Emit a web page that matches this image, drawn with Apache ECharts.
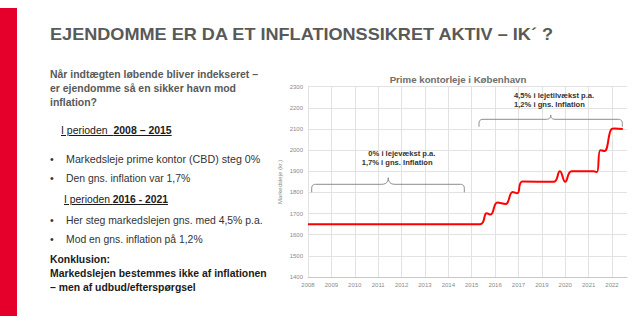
<!DOCTYPE html>
<html><head><meta charset="utf-8">
<script src="https://cdn.jsdelivr.net/npm/echarts@6/dist/echarts.min.js"></script>
<style>
html,body{margin:0;padding:0;width:642px;height:329px;overflow:hidden;background:#fff;}
#chart{position:absolute;left:0;top:0;width:642px;height:329px;}
.t{position:absolute;white-space:nowrap;font-family:"Liberation Sans",Arial,sans-serif;transform-origin:0 50%;line-height:14px;height:14px;}
</style></head><body>
<div id="chart"></div>
<div style="position:absolute;left:0;top:8px;width:17px;height:308px;background:#e4002b"></div>
<div id="slide"></div>
<script>
// ---- chart data ----
const tickLabels = ['2008','2009','2010','2011','2012','2013','2014','2015','2016','2017','2019','2020','2021','2022'];
const periodPos = [0, 7.36, 7.64, 7.8, 8.1, 8.45, 8.75, 8.95, 9.17, 10.5, 10.77, 11.0, 11.27, 12.2, 12.35, 12.5, 12.68, 12.98, 13.1, 13.46];
const rentDKK   = [1650, 1650, 1702, 1695, 1752, 1745, 1802, 1796, 1852, 1850, 1900, 1850, 1900, 1900, 1896, 2000, 1996, 2100, 2102, 2100];
const yMin = 1400, yMax = 2300, yStep = 100;

// ---- slide text ----
const slideLines = [
  {x:50, cy:34.5, w:503, s:17, b:700, c:'#595959', h:'EJENDOMME ER DA ET INFLATIONSSIKRET AKTIV – IK´ ?'},
  {x:50, cy:74, w:208, s:11.5, b:700, c:'#595959', h:'Når indtægten løbende bliver indekseret –'},
  {x:50, cy:88, w:186, s:11.5, b:700, c:'#595959', h:'er ejendomme så en sikker havn mod'},
  {x:50, cy:102, w:47, s:11.5, b:700, c:'#595959', h:'inflation?'},
  {x:61, cy:130, w:110.7, s:10.7, b:400, c:'#1a1a1a', h:'<u>I perioden&nbsp; <b>2008 – 2015</b></u>'},
  {x:50, cy:159.3, s:10.7, b:400, c:'#333', h:'•'},
  {x:65.7, cy:159.3, w:194.3, s:10.7, b:400, c:'#333', h:'Markedsleje prime kontor (CBD) steg 0%'},
  {x:50, cy:178.3, s:10.7, b:400, c:'#333', h:'•'},
  {x:65.7, cy:178.3, w:124.3, s:10.7, b:400, c:'#333', h:'Den gns. inflation var 1,7%'},
  {x:64.3, cy:199, w:104, s:10.7, b:400, c:'#1a1a1a', h:'<u>I perioden <b>2016 - 2021</b></u>'},
  {x:50, cy:220, s:10.7, b:400, c:'#333', h:'•'},
  {x:65.7, cy:220, w:196.6, s:10.7, b:400, c:'#333', h:'Her steg markedslejen gns. med 4,5% p.a.'},
  {x:50, cy:239.3, s:10.7, b:400, c:'#333', h:'•'},
  {x:65.7, cy:239.3, w:136.6, s:10.7, b:400, c:'#333', h:'Mod en gns. inflation på 1,2%'},
  {x:50, cy:259, w:60, s:11, b:700, c:'#1a1a1a', h:'Konklusion:'},
  {x:50, cy:272.7, w:216.7, s:11, b:700, c:'#1a1a1a', h:'Markedslejen bestemmes ikke af inflationen'},
  {x:50, cy:287.3, w:145.7, s:11, b:700, c:'#1a1a1a', h:'– men af udbud/efterspørgsel'}
];
const slide = document.getElementById('slide');
slideLines.forEach(l => {
  const d = document.createElement('div');
  d.className = 't';
  d.style.left = l.x + 'px';
  d.style.top = (l.cy - 7) + 'px';
  d.style.fontSize = l.s + 'px';
  d.style.fontWeight = l.b;
  d.style.color = l.c;
  d.innerHTML = l.h;
  slide.appendChild(d);
  if (l.w) {
    const aw = d.getBoundingClientRect().width;
    if (aw > 0) d.style.transform = 'scaleX(' + (l.w / aw) + ')';
  }
});

// ---- chart ----
const chart = echarts.init(document.getElementById('chart'), null, {renderer: 'svg'});
const xMax = 13.64;
const vColors = tickLabels.map(() => '#e2e2e2').concat(['rgba(0,0,0,0)']);
chart.setOption({
  animation: false,
  backgroundColor: '#fff',
  title: {
    text: 'Prime kontorleje i København', left: 453, top: 69, textAlign: 'center',
    textStyle: {fontFamily: 'Liberation Sans', fontSize: 9.7, fontWeight: 'bold', color: '#6e6e6e'}
  },
  grid: {left: 308, right: 15, top: 86.7, bottom: 52},
  xAxis: {
    type: 'value', min: 0, max: xMax, interval: 1,
    axisLine: {show: true, lineStyle: {color: '#c8c8c8'}},
    axisTick: {show: false},
    axisLabel: {
      fontFamily: 'Liberation Sans', fontSize: 6, color: '#8a8a8a', margin: 5, showMaxLabel: false,
      formatter: v => (Math.abs(v - Math.round(v)) < 1e-6 ? (tickLabels[Math.round(v)] || '') : '')
    },
    splitLine: {show: true, lineStyle: {color: vColors, width: 1}}
  },
  yAxis: {
    type: 'value', min: yMin, max: yMax, interval: yStep,
    name: 'Markedsleje (kr.)', nameLocation: 'middle', nameGap: 25,
    nameTextStyle: {fontFamily: 'Liberation Sans', fontSize: 6, color: '#8a8a8a'},
    axisLine: {show: false}, axisTick: {show: false},
    axisLabel: {fontFamily: 'Liberation Sans', fontSize: 6, color: '#8a8a8a', margin: 5, formatter: v => String(v)},
    splitLine: {lineStyle: {color: '#e2e2e2', width: 1}}
  },
  series: [{
    type: 'line',
    data: periodPos.map((x, i) => [x, rentDKK[i]]),
    symbol: 'none', smooth: 0.45,
    lineStyle: {color: '#ff0000', width: 2}
  }]
});

// ---- annotations (brackets + notes) ----
function q(p0, p1, p2, n) {
  const out = [];
  for (let i = 1; i <= n; i++) {
    const t = i / n, a = (1 - t) * (1 - t), b = 2 * (1 - t) * t, c = t * t;
    out.push([a * p0[0] + b * p1[0] + c * p2[0], a * p0[1] + b * p1[1] + c * p2[1]]);
  }
  return out;
}
function bracket(x0, x1, xm, y, yEnd, yTip) {
  const r = Math.min(4, (yEnd - y));
  const rt = y - yTip;
  let pts = [[x0, yEnd], [x0, y + r]];
  pts = pts.concat(q([x0, y + r], [x0, y], [x0 + r, y], 6));
  pts.push([xm - rt, y]);
  pts = pts.concat(q([xm - rt, y], [xm, y], [xm, yTip], 6));
  pts = pts.concat(q([xm, yTip], [xm, y], [xm + rt, y], 6));
  pts.push([x1 - r, y]);
  pts = pts.concat(q([x1 - r, y], [x1, y], [x1, y + r], 6));
  pts.push([x1, yEnd]);
  return {type: 'polyline', shape: {points: pts}, style: {stroke: '#8c8c8c', lineWidth: 1, fill: null}, silent: true};
}
function note(x, y, text) {
  return {type: 'text', x: x, y: y, style: {text: text, font: 'bold 7.6px "Liberation Sans"', fill: '#333', textAlign: 'left', textVerticalAlign: 'middle'}, silent: true};
}
chart.setOption({
  graphic: [
    bracket(311.7, 464.3, 388.3, 184.3, 192.3, 177.7),
    bracket(479, 622.3, 550.7, 119.3, 126.7, 115),
    note(368.3, 153.3, '0% i lejevækst p.a.'),
    note(361.7, 162.7, '1,7% i gns. Inflation'),
    note(514, 95.7, '4,5% i lejetilvækst p.a.'),
    note(514, 104.3, '1,2% i gns. Inflation')
  ]
});
</script>
</body></html>
